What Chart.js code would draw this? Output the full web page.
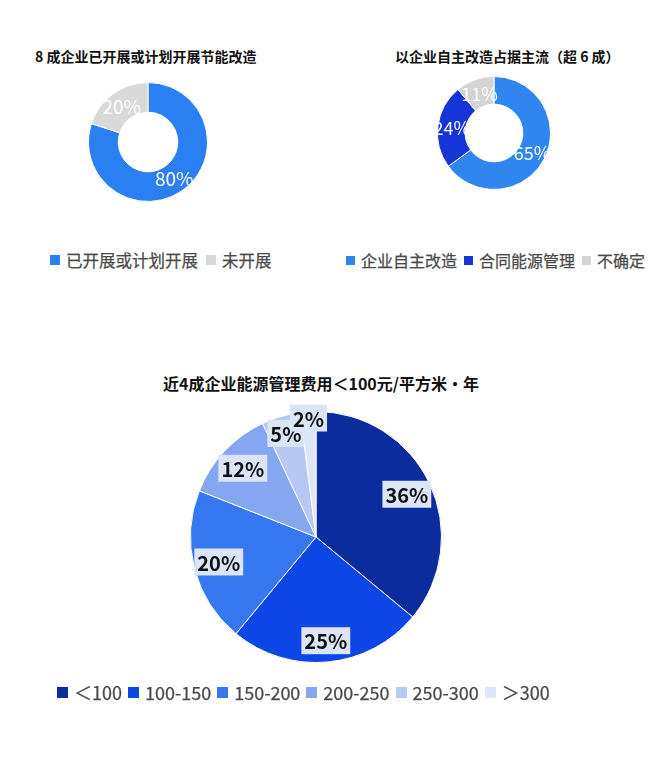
<!DOCTYPE html>
<html>
<head>
<meta charset="utf-8">
<script src="https://cdn.jsdelivr.net/npm/chart.js@4.4.1/dist/chart.umd.min.js"></script>
<style>
  body { margin: 0; background: #fff; font-family: "Noto Sans CJK SC", "Noto Sans", sans-serif; }
  #page { position: relative; width: 660px; height: 780px; overflow: hidden; }
  .title { position: absolute; font-weight: bold; color: #111; white-space: nowrap; }
  .legend { position: absolute; display: flex; align-items: center; color: #4a4a4a; white-space: nowrap;
    -webkit-text-stroke: 0.25px #4a4a4a; }
  .legend span.box { display: inline-block; margin-right: 6px; }
  .legend span.item { display: inline-flex; align-items: center; }
  canvas { position: absolute; }
</style>
</head>
<body>
<div id="page">
  <div class="title" id="t1" style="left:35px; top:46px; font-size:14px;"></div>
  <div class="title" id="t2" style="left:395px; top:46px; font-size:14px;"></div>
  <div class="title" id="t3" style="left:163px; top:371px; font-size:16px;"></div>
  <canvas id="c1" width="140" height="140" style="left:78px; top:72px;"></canvas>
  <canvas id="c2" width="134" height="134" style="left:427px; top:66px;"></canvas>
  <canvas id="c3" width="292" height="292" style="left:170px; top:391px;"></canvas>
  <div class="legend" id="l1" style="left:50px; top:248px; font-size:16.5px;"></div>
  <div class="legend" id="l2" style="left:346px; top:248px; font-size:16px;"></div>
  <div class="legend" id="l3" style="left:57px; top:679px; font-size:18px;"></div>
</div>
<script>
// chart 1
const title1 = "8 成企业已开展或计划开展节能改造";
const labels1 = ["已开展或计划开展", "未开展"];
const values1 = [80, 20];
const colors1 = ["#2a7ff2", "#d9d9d9"];

// chart 2
const title2 = "以企业自主改造占据主流（超 6 成）";
const labels2 = ["企业自主改造", "合同能源管理", "不确定"];
const values2 = [65, 24, 11];
const colors2 = ["#2f86f0", "#1535d6", "#d4d4d4"];

// chart 3
const title3 = "近4成企业能源管理费用＜100元/平方米·年";
const labels3 = ["＜100", "100-150", "150-200", "200-250", "250-300", "＞300"];
const values3 = [36, 25, 20, 12, 5, 2];
const colors3 = ["#0b2c9c", "#0c46e6", "#3677f2", "#85a6f0", "#b6c9f5", "#dde5f8"];

document.getElementById("t1").textContent = title1;
document.getElementById("t2").textContent = title2;
document.getElementById("t3").textContent = title3;

const buildLegend = (id, labels, colors, box, gap) => {
  const el = document.getElementById(id);
  labels.forEach((label, i) => {
    const item = document.createElement("span");
    item.className = "item";
    item.style.marginRight = gap + "px";
    const sq = document.createElement("span");
    sq.className = "box";
    sq.style.width = box + "px";
    sq.style.height = box + "px";
    sq.style.background = colors[i];
    item.appendChild(sq);
    item.appendChild(document.createTextNode(label));
    el.appendChild(item);
  });
};

buildLegend("l1", labels1, colors1, 10, 8);
buildLegend("l2", labels2, colors2, 9, 7);
buildLegend("l3", labels3, colors3, 11, 6);

// draws the percent labels on each slice
const sliceLabels = {
  id: "sliceLabels",
  afterDatasetsDraw: (chart, _args, opts) => {
    const { ctx } = chart;
    const meta = chart.getDatasetMeta(0);
    const data = chart.data.datasets[0].data;
    ctx.save();
    ctx.font = opts.font;
    ctx.textAlign = "center";
    ctx.textBaseline = "middle";
    meta.data.forEach((arc, i) => {
      const p = arc.getProps(["x", "y", "startAngle", "endAngle", "innerRadius", "outerRadius"], true);
      const mid = (p.startAngle + p.endAngle) / 2;
      let r;
      if (p.innerRadius > 0) {
        r = (p.innerRadius + p.outerRadius) / 2;
      } else {
        const f = opts.radii ? opts.radii[i] : 0.8;
        r = p.outerRadius * f;
      }
      const x = p.x + Math.cos(mid) * r;
      const y = p.y + Math.sin(mid) * r;
      const text = `${data[i]}%`;
      if (opts.boxColor) {
        const w = ctx.measureText(text).width + 6;
        const h = 27;
        ctx.fillStyle = opts.boxColor;
        ctx.fillRect(x - w / 2, y - h / 2, w, h);
      }
      ctx.fillStyle = opts.color;
      ctx.fillText(text, x, y + 1);
    });
    ctx.restore();
  },
};

Chart.register(sliceLabels);
Chart.defaults.animation = false;
Chart.defaults.responsive = false;
Chart.defaults.plugins.legend.display = false;
Chart.defaults.plugins.tooltip.enabled = false;

const makePie = (id, values, colors, type, pad, labelOpts, extra = {}) => {
  new Chart(document.getElementById(id), {
    type,
    data: {
      labels: values.map((v) => `${v}%`),
      datasets: [
        {
          data: values,
          backgroundColor: colors,
          borderColor: "#ffffff",
          borderWidth: 1,
        },
      ],
    },
    options: {
      layout: { padding: pad },
      plugins: { sliceLabels: labelOpts },
      ...extra,
    },
  });
};

makePie("c1", values1, colors1, "doughnut", 10,
  { font: "19px 'Noto Sans CJK SC'", color: "#ffffff" }, { cutout: "50%" });
makePie("c2", values2, colors2, "doughnut", 10,
  { font: "18px 'Noto Sans CJK SC'", color: "#ffffff" }, { cutout: "51%" });
makePie("c3", values3, colors3, "pie", 20,
  {
    font: "bold 20px 'Noto Sans CJK SC'",
    color: "#111111",
    boxColor: "#dce5f7",
    radii: [0.8, 0.83, 0.8, 0.8, 0.86, 0.95],
  });
</script>
</body>
</html>
